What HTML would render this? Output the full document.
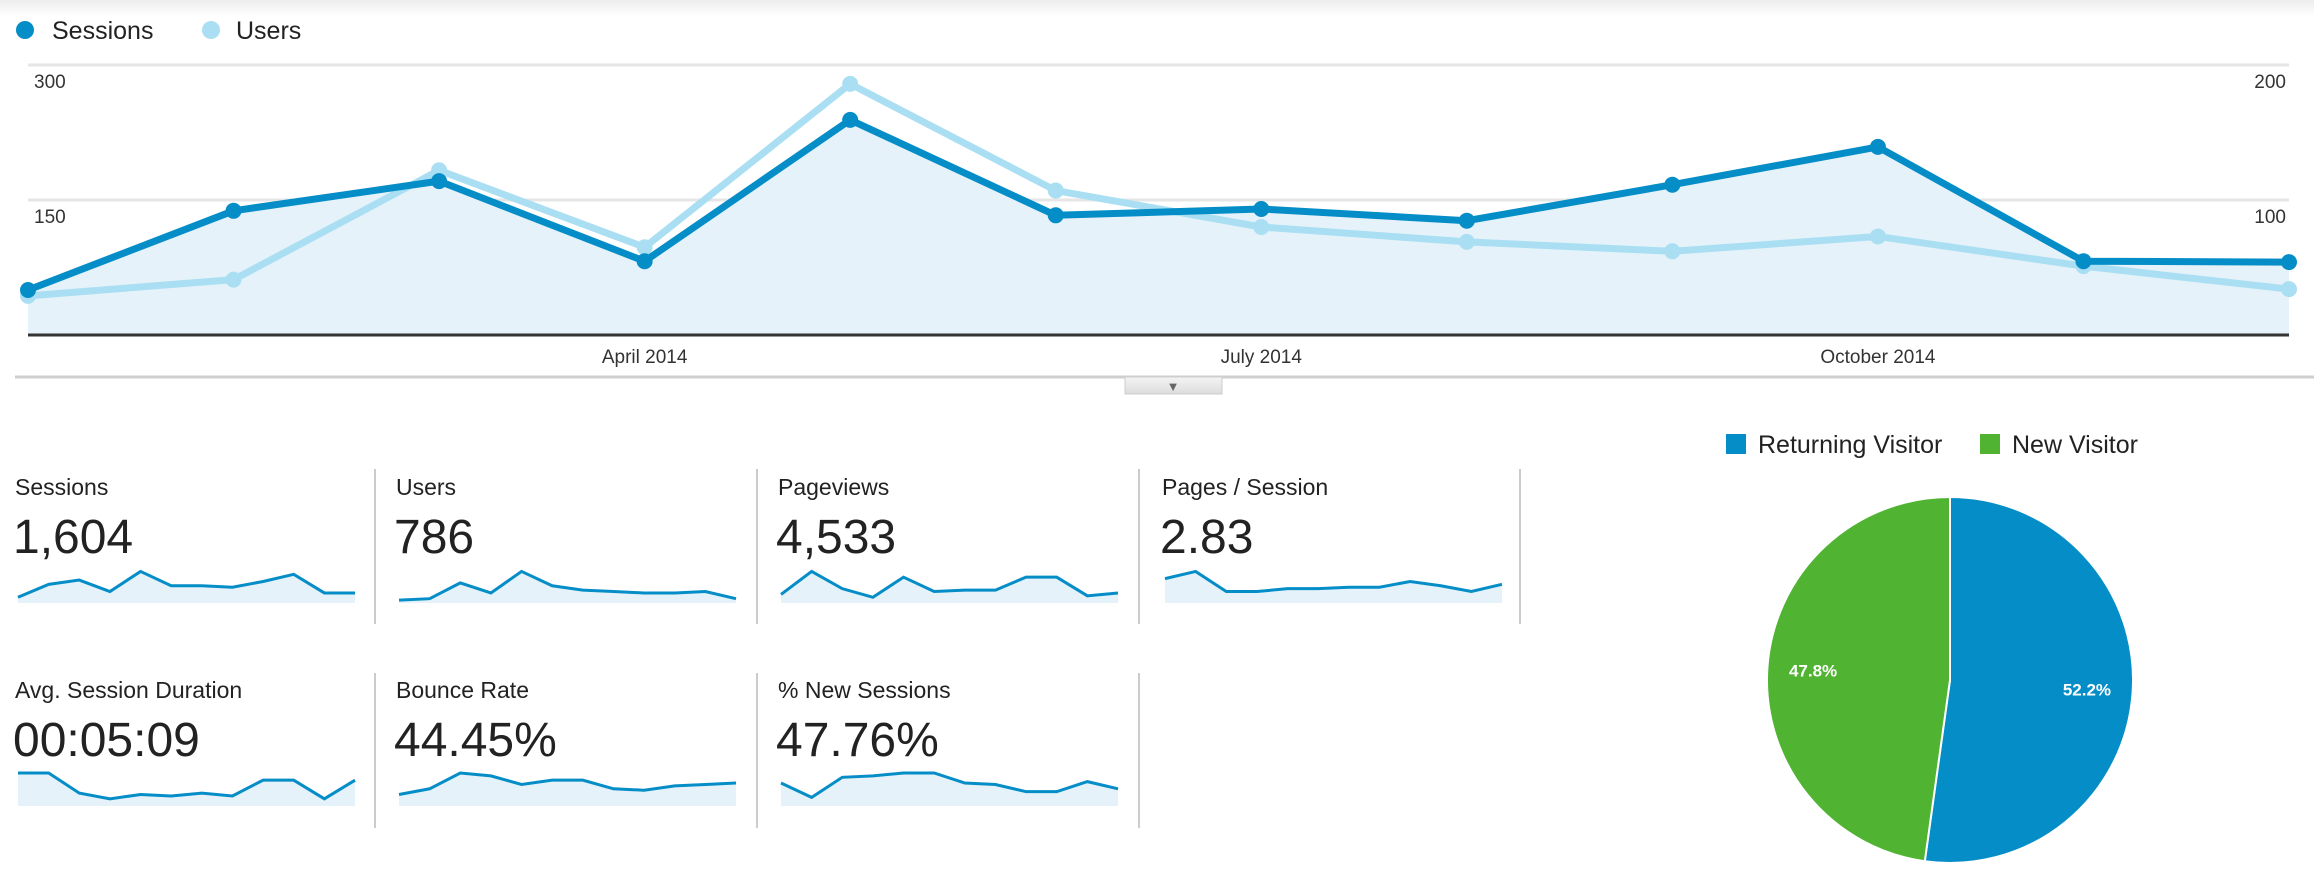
<!DOCTYPE html>
<html><head><meta charset="utf-8"><style>
html,body{margin:0;padding:0;background:#fff;}
svg{display:block;font-family:"Liberation Sans",Arial,sans-serif;}
</style></head><body>
<svg id="root" width="2314" height="876" viewBox="0 0 2314 876" xmlns="http://www.w3.org/2000/svg">
<defs>
<linearGradient id="topShade" x1="0" y1="0" x2="0" y2="1"><stop offset="0" stop-color="#ececec"/><stop offset="1" stop-color="#fff"/></linearGradient>
<linearGradient id="tabG" x1="0" y1="0" x2="0" y2="1"><stop offset="0" stop-color="#f4f4f4"/><stop offset="1" stop-color="#dcdcdc"/></linearGradient>
</defs>
<rect x="0" y="0" width="2314" height="16" fill="url(#topShade)"/>
<g>
<g><circle cx="25" cy="30" r="9" fill="#058dc7"/><text x="52" y="39" font-size="25" fill="#222">Sessions</text></g>
<g><circle cx="211" cy="30" r="9" fill="#aadff3"/><text x="236" y="39" font-size="25" fill="#222">Users</text></g>
</g>
<g id="main"></g>
<g>
<line x1="15" y1="377" x2="2314" y2="377" stroke="#cfcfcf" stroke-width="3"/>
<g><rect x="1125" y="377" width="97" height="17" fill="url(#tabG)" stroke="#ccc"/><text x="1173" y="391" font-size="13" fill="#666" text-anchor="middle">▼</text></g>
</g>
<g id="cards"></g>
<g id="pie">
<g>
<g><rect x="1726" y="434" width="20" height="20" fill="#058dc7"/><text x="1758" y="453" font-size="25" fill="#222">Returning Visitor</text></g>
<g><rect x="1980" y="434" width="20" height="20" fill="#50b432"/><text x="2012" y="453" font-size="25" fill="#222">New Visitor</text></g>
</g>
</g>
</svg>
<script>
const NS="http://www.w3.org/2000/svg";
// ---- main chart data ----
const months=["Jan","Feb","Mar","Apr","May","Jun","Jul","Aug","Sep","Oct","Nov","Dec"];
const sessions=[50,138,171,82,239,133,140,127,167,209,82,81];
const users=[29,41,122,65,186,107,80,69,62,73,51,34];
const leftTicks=[150,300];
const rightTicks=[100,200];
const xLabels=["April 2014","July 2014","October 2014"];
const xLabelIdx=[3,6,9];
// ---- scorecard data ----
const cardTitles=["Sessions","Users","Pageviews","Pages / Session","Avg. Session Duration","Bounce Rate","% New Sessions"];
const cardValues=["1,604","786","4,533","2.83","00:05:09","44.45%","47.76%"];
const sparkSessions=[4,13,16,8,22,12,12,11,15,20,7,7];
const sparkUsers=[2,3,14,7,22,12,9,8,7,7,8,3];
const sparkPageviews=[6,22,10,4,18,8,9,9,18,18,5,7];
const sparkPagesPerSession=[17,22,8,8,10,10,11,11,15,12,8,13];
const sparkDuration=[23,23,9,5,8,7,9,7,18,18,5,18];
const sparkBounce=[8,12,23,21,15,18,18,12,11,14,15,16];
const sparkNewSessions=[16,6,20,21,23,23,16,15,10,10,17,12];
// ---- pie data ----
const pieLabels=["Returning Visitor","New Visitor"];
const pieValues=[52.2,47.8];

function el(tag,attrs,parent){const e=document.createElementNS(NS,tag);for(const k in attrs)e.setAttribute(k,attrs[k]);parent.appendChild(e);return e;}

// main chart
const main=document.getElementById('main');
const X0=28,X1=2289,YB=335,YT=65;
const xs=i=>X0+i*(X1-X0)/(months.length-1);
const yL=v=>YB-v/300*(YB-YT);
const yR=v=>YB-v/200*(YB-YT);
for(const t of [0,150,300]){
  if(t===0)continue;
  const g=el('line',{x1:X0,x2:X1,y1:yL(t),y2:yL(t),stroke:'#e6e6e6','stroke-width':3},main);
  
  
}
let ap=`M${xs(0)},${YB} `+sessions.map((v,i)=>`L${xs(i)},${yL(v)}`).join(' ')+` L${xs(sessions.length-1)},${YB} Z`;
const area=el('path',{d:ap,fill:'#e5f2f9'},main);


leftTicks.forEach(t=>{const tx=el('text',{x:34,y:yL(t)+23,'font-size':19,fill:'#333'},main);tx.textContent=t;

});
rightTicks.forEach(t=>{const tx=el('text',{x:2286,y:yR(t)+23,'font-size':19,fill:'#333','text-anchor':'end'},main);tx.textContent=t;

});
function series(vals,ys,color,name){
  const p=el('polyline',{points:vals.map((v,i)=>xs(i)+','+ys(v)).join(' '),fill:'none',stroke:color,'stroke-width':7,'stroke-linejoin':'round'},main);
  
  
  vals.forEach((v,i)=>{const c=el('circle',{cx:xs(i),cy:ys(v),r:8,fill:color},main);
    
    });
}
series(users,yR,'#aadff3','users');
series(sessions,yL,'#058dc7','sessions');
const ax=el('line',{x1:X0,x2:X1,y1:YB,y2:YB,stroke:'#333','stroke-width':3},main);


xLabels.forEach((l,k)=>{const tx=el('text',{x:xs(xLabelIdx[k]),y:363,'font-size':19,fill:'#333','text-anchor':'middle'},main);tx.textContent=l;

});

// scorecards
const cards=document.getElementById('cards');
const sparks=[sparkSessions,sparkUsers,sparkPageviews,sparkPagesPerSession,sparkDuration,sparkBounce,sparkNewSessions];
const colX=[15,396,778,1162];
const rowY=[0,203];
cardTitles.forEach((t,i)=>{
  const r=i<4?0:1, c=i<4?i:i-4;
  const x=colX[c], oy=rowY[r];
  const g=el('g',{},cards);
  
  
  const tt=el('text',{x:x,y:495+oy,'font-size':23,fill:'#222'},g);tt.textContent=t;
  const vt=el('text',{x:x-2,y:553+oy,'font-size':48,fill:'#222'},g);vt.textContent=cardValues[i];
  const sx0=x+3,sw=337,sb=603+oy,sh=33;
  const sxs=j=>sx0+j*sw/(sparks[i].length-1);
  const sy=v=>sb-v/23*sh;
  const d=sparks[i].map((v,j)=>`L${sxs(j)},${sy(v)}`).join(' ');
  const a=el('path',{d:`M${sxs(0)},${sb} ${d} L${sxs(sparks[i].length-1)},${sb} Z`,fill:'#e5f2f9'},g);
  
  
  const ln=el('polyline',{points:sparks[i].map((v,j)=>sxs(j)+','+sy(v)).join(' '),fill:'none',stroke:'#058dc7','stroke-width':3},g);
  
  
});
[[375,469,624],[757,469,624],[1139,469,624],[1520,469,624],[375,673,828],[757,673,828],[1139,673,828]].forEach(d=>{
  const l=el('line',{x1:d[0],x2:d[0],y1:d[1],y2:d[2],stroke:'#ccc','stroke-width':2},cards);
  
  
});

// pie
const pie=document.getElementById('pie');
const cx=1950,cy=680,R=183;
const colors=['#058dc7','#50b432'];
const total=pieValues.reduce((a,b)=>a+b,0);
let ang=-Math.PI/2;
pieValues.forEach((v,i)=>{
  const a1=ang+v/total*2*Math.PI;
  const large=(a1-ang)>Math.PI?1:0;
  const p=el('path',{d:`M${cx},${cy} L${cx+R*Math.cos(ang)},${cy+R*Math.sin(ang)} A${R},${R} 0 ${large} 1 ${cx+R*Math.cos(a1)},${cy+R*Math.sin(a1)} Z`,fill:colors[i],stroke:'#fff','stroke-width':2},pie);
  
  
  const mid=(ang+a1)/2;
  const t=el('text',{x:cx+R*0.75*Math.cos(mid),y:cy+R*0.75*Math.sin(mid)+6,'font-size':17,'font-weight':'bold',fill:'#fff','text-anchor':'middle'},pie);
  t.textContent=v.toFixed(1)+'%';
  
  
  ang=a1;
});
</script>
</body></html>
